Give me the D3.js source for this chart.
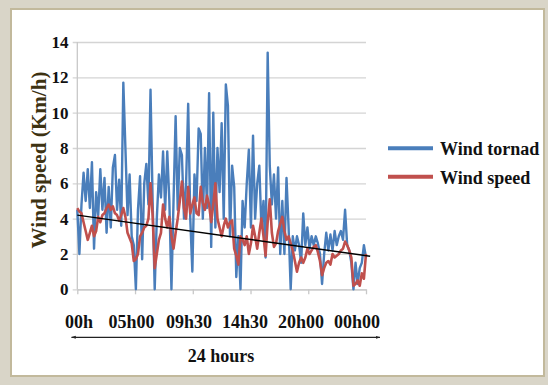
<!DOCTYPE html>
<html>
<head>
<meta charset="utf-8">
<script src="https://cdn.jsdelivr.net/npm/d3@7"></script>
<style>
  body { margin: 0; background: #d9d5c8; }
  text { font-family: "Liberation Serif", "DejaVu Serif", serif; font-weight: bold; }
</style>
</head>
<body>
<div id="chart"></div>
<script>
// data (one sample every ~2px of the time axis)
var windTornad = [4.5, 2.0, 4.8, 6.6, 5.0, 6.8, 4.6, 7.2, 2.3, 5.5,
    4.2, 6.8, 4.5, 6.3, 3.2, 5.8, 3.5, 6.9, 7.6, 4.5,
    6.2, 3.6, 11.7, 8.0, 4.2, 6.5, 3.0, 2.5, 0.0, 4.5,
    6.4, 1.7, 6.0, 7.1, 4.8, 11.3, 5.0, 0.0, 4.0, 6.5,
    5.2, 7.8, 4.5, 7.8, 5.0, 0.0, 5.0, 9.8, 4.5, 8.0,
    7.6, 4.0, 6.0, 10.5, 4.0, 1.0, 6.5, 5.0, 9.1, 8.8,
    4.0, 8.0, 4.6, 11.1, 2.4, 10.0, 3.5, 8.0, 5.5, 9.4,
    4.0, 11.6, 10.4, 3.0, 7.0, 5.8, 0.7, 3.0, 0.0, 5.0,
    3.5, 6.0, 7.9, 3.5, 8.7, 4.0, 6.0, 7.0, 3.5, 5.0,
    1.8, 13.4, 7.0, 4.8, 6.5, 4.0, 6.9, 2.0, 5.0, 2.0,
    6.3, 3.5, 0.0, 3.0, 2.2, 3.0, 2.5, 1.5, 4.3, 2.5,
    3.5, 2.3, 3.0, 2.5, 3.0, 2.6, 2.0, 0.3, 2.0, 3.2,
    2.2, 3.1, 2.2, 3.3, 2.5, 3.0, 3.3, 2.8, 4.5, 2.5,
    2.2, 1.5, 0.0, 1.5, 0.3, 1.2, 1.5, 2.5, 1.8];

var windSpeed = [4.6, 4.4, 4.3, 3.8, 3.3, 2.8, 3.2, 3.6, 3.0, 3.3,
    4.1, 3.8, 4.2, 4.3, 4.6, 4.8, 4.5, 4.7, 4.3, 4.2,
    3.9, 4.2, 4.6, 4.1, 3.2, 2.9, 2.6, 1.6, 1.7, 2.0,
    3.0, 3.2, 3.5, 3.6, 4.0, 6.0, 4.2, 1.2, 2.0, 2.8,
    3.2, 4.8, 4.0, 3.5, 4.1, 3.0, 2.3, 3.2, 4.0, 5.0,
    6.1, 4.6, 4.0, 5.8, 4.3, 4.8, 5.2, 4.3, 4.2, 5.8,
    4.9, 4.5, 5.3, 4.8, 3.8, 4.8, 6.0, 4.0, 3.5, 3.0,
    3.6, 4.0, 3.5, 3.8, 3.9, 2.3, 1.9, 1.4, 3.0, 2.8,
    2.5, 3.0, 2.0, 2.6, 3.6, 3.0, 2.3, 3.2, 4.0, 3.0,
    1.9, 3.8, 5.1, 3.2, 2.4, 2.6, 3.3, 3.7, 4.1, 3.3,
    2.8, 3.0, 2.6, 2.2, 1.6, 1.0, 1.5, 1.8, 1.5, 1.8,
    2.3, 2.0, 2.2, 2.4, 2.5, 2.1, 1.6, 0.8, 1.2, 1.5,
    1.6, 1.4, 2.0, 1.8, 1.9, 2.0, 2.2, 2.3, 2.7, 2.5,
    2.2, 1.8, 0.2, 0.3, 0.5, 0.2, 0.9, 0.6, 2.0];

// linear trend (start / end value)
var trendIndex = [0, 140];
var trendValue = [4.2, 1.87];

var timeLabels = ["00h", "05h00", "09h30", "14h30", "20h00", "00h00"];
var labelCenters = [79, 131.5, 189, 245, 301, 357];
var yTicks = [0, 2, 4, 6, 8, 10, 12, 14];
var seriesNames = ["Wind tornad", "Wind speed"];
var seriesColors = ["#4a7ebb", "#c0504d"];

var svgWidth = 548;
var svgHeight = 385;

var svg = d3.select("#chart")
    .append("svg")
    .attr("width", svgWidth)
    .attr("height", svgHeight);

// frame around the figure
svg.append("rect")
    .attr("x", 0).attr("y", 0)
    .attr("width", svgWidth).attr("height", svgHeight)
    .attr("fill", "#d9d5c8");

svg.append("rect")
    .attr("x", 11).attr("y", 9)
    .attr("width", 533).attr("height", 367)
    .attr("fill", "#ffffff")
    .attr("stroke", "#c2b99c")
    .attr("stroke-width", 2);

// scales
var xScale = d3.scaleLinear()
    .domain([0, windTornad.length - 1])
    .range([77.3, 366]);

var yScale = d3.scaleLinear()
    .domain([0, 14])
    .range([289.3, 42]);

// gridlines + y axis
var leftAxis = d3.axisLeft(yScale)
    .tickValues(yTicks)
    .tickSize(-(366 - 77.3))
    .tickSizeOuter(0)
    .tickFormat("");

var gridGroup = svg.append("g")
    .attr("transform", "translate(77.3,0)")
    .call(leftAxis);
gridGroup.select(".domain").remove();
gridGroup.selectAll(".tick line")
    .attr("x1", -4.6)
    .attr("stroke", "#d4d4d4")
    .attr("stroke-width", 1.3);

svg.append("line")
    .attr("x1", 77.3).attr("x2", 77.3)
    .attr("y1", 42).attr("y2", 289.3)
    .attr("stroke", "#c8c8c8")
    .attr("stroke-width", 1.3);

// y tick labels
svg.selectAll(".ylab")
    .data(yTicks)
    .enter()
    .append("text")
    .attr("class", "ylab")
    .attr("x", 68.5)
    .attr("y", d => yScale(d) + 6)
    .attr("text-anchor", "end")
    .attr("font-size", 17)
    .attr("fill", "#111")
    .text(d => d);

// x axis ticks
var tickScale = d3.scaleLinear().domain([0, 5]).range([77.3, 366]);
var bottomAxis = d3.axisBottom(tickScale)
    .tickValues(d3.range(6))
    .tickSize(5)
    .tickSizeOuter(0)
    .tickFormat("");

var xGroup = svg.append("g")
    .attr("transform", "translate(0,289.3)")
    .call(bottomAxis);
xGroup.select(".domain").attr("stroke", "#c8c8c8").attr("stroke-width", 1.3);
xGroup.selectAll(".tick line").attr("stroke", "#c8c8c8").attr("stroke-width", 1.3);

// series lines
var line = d3.line()
    .x((d, i) => xScale(i))
    .y(d => yScale(d));

svg.append("path")
    .datum(windTornad)
    .attr("d", line)
    .attr("fill", "none")
    .attr("stroke", seriesColors[0])
    .attr("stroke-width", 2.4)
    .attr("stroke-linejoin", "round");

svg.append("path")
    .datum(windSpeed)
    .attr("d", line)
    .attr("fill", "none")
    .attr("stroke", seriesColors[1])
    .attr("stroke-width", 2.6)
    .attr("stroke-linejoin", "round");

// trend line
svg.append("line")
    .attr("x1", xScale(trendIndex[0])).attr("y1", yScale(trendValue[0]))
    .attr("x2", xScale(trendIndex[1])).attr("y2", yScale(trendValue[1]))
    .attr("stroke", "#000")
    .attr("stroke-width", 1.4);

// axis title
svg.append("text")
    .attr("transform", "translate(46,160) rotate(-90)")
    .attr("text-anchor", "middle")
    .attr("font-size", 20)
    .attr("fill", "#3d3212")
    .attr("textLength", 177)
    .attr("lengthAdjust", "spacingAndGlyphs")
    .text("Wind speed (Km/h)");

// time labels below the axis
svg.selectAll(".tlab")
    .data(timeLabels)
    .enter()
    .append("text")
    .attr("class", "tlab")
    .attr("x", (d, i) => labelCenters[i])
    .attr("y", 328)
    .attr("text-anchor", "middle")
    .attr("font-size", 18)
    .attr("fill", "#111")
    .text(d => d);

// double arrow for "24 hours"
var defs = svg.append("defs");
defs.append("marker")
    .attr("id", "arr")
    .attr("viewBox", "0 0 10 10")
    .attr("refX", 9).attr("refY", 5)
    .attr("markerWidth", 4).attr("markerHeight", 4)
    .attr("orient", "auto-start-reverse")
    .append("path")
    .attr("d", "M0,2 L10,5 L0,8")
    .attr("fill", "#222");

svg.append("line")
    .attr("x1", 71.5).attr("x2", 380)
    .attr("y1", 337.3).attr("y2", 337.3)
    .attr("stroke", "#222")
    .attr("stroke-width", 1.2)
    .attr("marker-start", "url(#arr)")
    .attr("marker-end", "url(#arr)");

svg.append("text")
    .attr("x", 221)
    .attr("y", 362)
    .attr("text-anchor", "middle")
    .attr("font-size", 18)
    .attr("fill", "#111")
    .text("24 hours");

// legend
var legend = svg.selectAll(".legend")
    .data(seriesNames)
    .enter()
    .append("g")
    .attr("class", "legend")
    .attr("transform", (d, i) => `translate(388, ${148.3 + i * 28.4})`);

legend.append("line")
    .attr("x1", 0).attr("x2", 45)
    .attr("stroke", (d, i) => seriesColors[i])
    .attr("stroke-width", 4);

legend.append("text")
    .attr("x", 52)
    .attr("y", 7)
    .attr("font-size", 18)
    .attr("fill", "#111")
    .text(d => d);
</script>
</body>
</html>
